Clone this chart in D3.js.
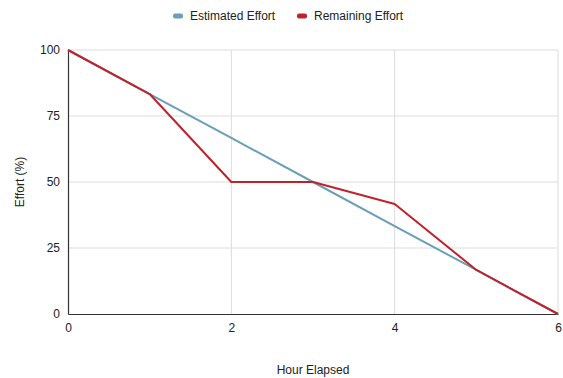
<!DOCTYPE html>
<html>
<head>
<meta charset="utf-8">
<script src="https://cdn.jsdelivr.net/npm/d3@7"></script>
<style>
  body { margin: 0; background: #fff; }
  svg { display: block; font-family: "Liberation Sans", Arial, sans-serif; }
</style>
</head>
<body>
<div id="chart"></div>
<script>
const hours = [0, 1, 2, 3, 4, 5, 6];
const estimatedEffort = [100, 83.33, 66.67, 50, 33.33, 16.67, 0];
const remainingEffort = [100, 83.33, 50, 50, 41.67, 16.67, 0];
const xTicks = [0, 2, 4, 6];
const yTicks = [0, 25, 50, 75, 100];
const seriesNames = ['Estimated Effort', 'Remaining Effort'];
const seriesColors = ['#6b9fb8', '#c0222c'];

const width = 563, height = 378;
const margin = {top: 50, right: 5, bottom: 64, left: 68};
const innerW = width - margin.left - margin.right;
const innerH = height - margin.top - margin.bottom;

const svg = d3.select('#chart').append('svg')
  .attr('width', width)
  .attr('height', height);

const g = svg.append('g')
  .attr('transform', `translate(${margin.left},${margin.top})`);

const x = d3.scaleLinear().domain([0, 6]).range([0, innerW]);
const y = d3.scaleLinear().domain([0, 100]).range([innerH, 0]);

// grid
g.selectAll('.hgrid')
  .data(yTicks.filter(d => d > 0))
  .enter().append('line')
  .attr('x1', 0).attr('x2', innerW)
  .attr('y1', d => y(d)).attr('y2', d => y(d))
  .attr('stroke', '#dcdcdc');
g.selectAll('.vgrid')
  .data(xTicks.filter(d => d > 0))
  .enter().append('line')
  .attr('x1', d => x(d)).attr('x2', d => x(d))
  .attr('y1', 0).attr('y2', innerH)
  .attr('stroke', '#dcdcdc');

// axes
const yAxis = g.append('g')
  .call(d3.axisLeft(y).tickValues(yTicks).tickFormat(d3.format('d')).tickSize(0).tickPadding(8));
const xAxis = g.append('g')
  .attr('transform', `translate(0,${innerH})`)
  .call(d3.axisBottom(x).tickValues(xTicks).tickFormat(d3.format('d')).tickSize(0).tickPadding(9));
[yAxis, xAxis].forEach(a => {
  a.select('.domain').attr('stroke', '#333').attr('stroke-width', 1.2);
  a.selectAll('text').attr('font-size', 12).attr('fill', '#222')
    .attr('font-family', '"Liberation Sans", Arial, sans-serif');
});

// lines
const line = d3.line().x((d, i) => x(hours[i])).y(d => y(d));
[estimatedEffort, remainingEffort].forEach((vals, k) => {
  g.append('path')
    .datum(vals)
    .attr('d', line)
    .attr('fill', 'none')
    .attr('stroke', seriesColors[k])
    .attr('stroke-width', 2)
    .attr('stroke-linejoin', 'round');
});

// axis titles
svg.append('text')
  .attr('x', margin.left + innerW / 2)
  .attr('y', 374)
  .attr('text-anchor', 'middle')
  .attr('font-size', 12)
  .attr('fill', '#222')
  .text('Hour Elapsed');
svg.append('text')
  .attr('transform', `translate(24,${margin.top + innerH / 2}) rotate(-90)`)
  .attr('text-anchor', 'middle')
  .attr('font-size', 12)
  .attr('fill', '#222')
  .text('Effort (%)');

// legend
const legendX = [173, 297];
seriesNames.forEach((name, k) => {
  const lg = svg.append('g').attr('transform', `translate(${legendX[k]},16)`);
  lg.append('rect')
    .attr('x', 0).attr('y', -2.5)
    .attr('width', 10).attr('height', 5).attr('rx', 2)
    .attr('fill', seriesColors[k]);
  lg.append('text')
    .attr('x', 17).attr('y', 4)
    .attr('font-size', 12)
    .attr('fill', '#222')
    .text(name);
});
</script>
</body>
</html>
